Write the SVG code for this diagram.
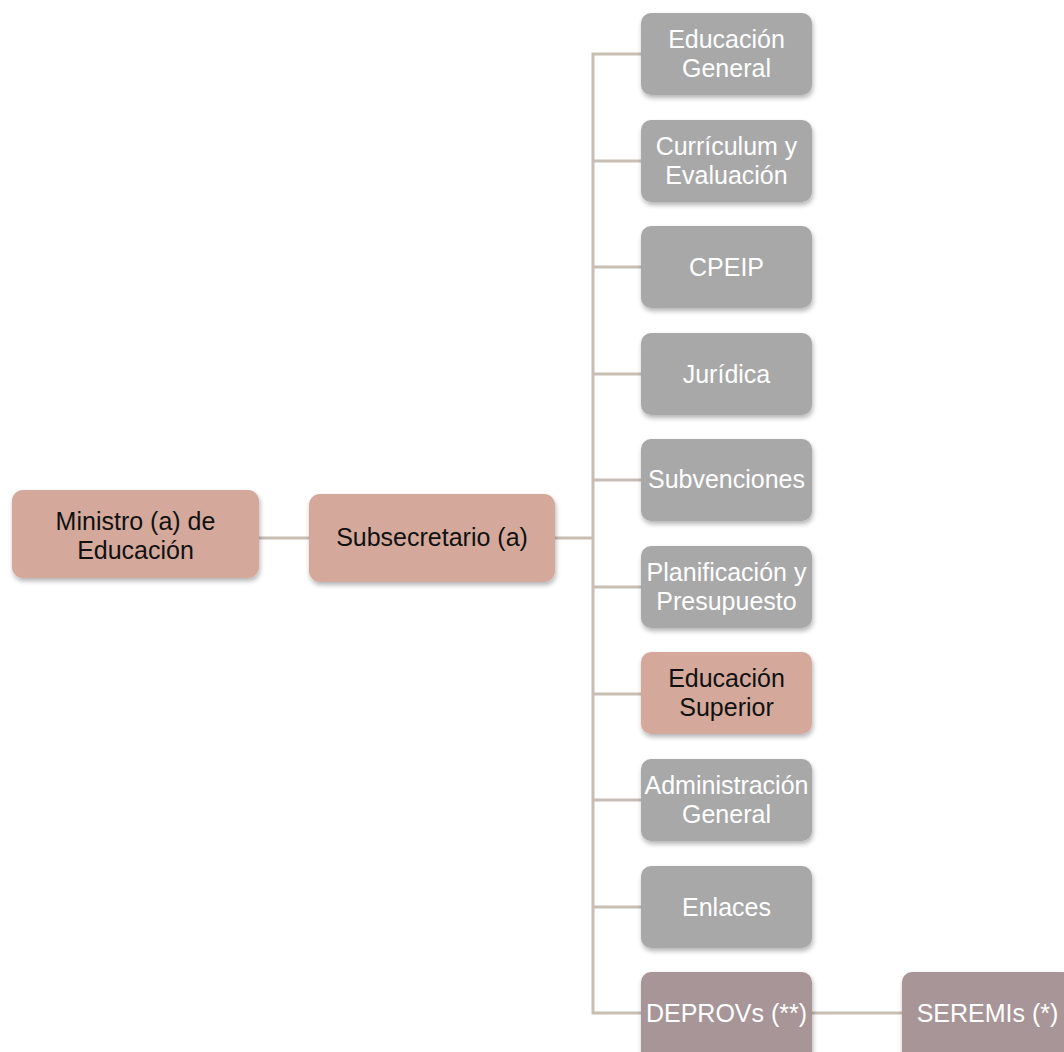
<svg xmlns="http://www.w3.org/2000/svg" width="1064" height="1052" viewBox="0 0 1064 1052">
<defs>
<filter id="sh" x="-10%" y="-10%" width="125%" height="130%">
<feGaussianBlur in="SourceAlpha" stdDeviation="2.5"/>
<feOffset dx="1" dy="3" result="b"/>
<feComponentTransfer><feFuncA type="linear" slope="0.3"/></feComponentTransfer>
<feMerge><feMergeNode/><feMergeNode in="SourceGraphic"/></feMerge>
</filter>
</defs>
<style>
.pink{fill:#D4A99B}
.gray{fill:#A8A8A9}
.mauve{fill:#A89597}
rect{filter:url(#sh)}
text{font-family:"Liberation Sans",Arial,sans-serif;font-size:25px;text-anchor:middle}
.w{fill:#FFFFFF}
.k{fill:#111111}
.ln{stroke:#C9BEB3;stroke-width:3;fill:none}
</style>
<rect width="1064" height="1052" fill="#FFFFFF" style="filter:none"/>
<g id="connectors">
<path class="ln" d="M259,538 H309"/>
<path class="ln" d="M555,538 H593"/>
<path class="ln" d="M641,54 H593 V1013 H641"/>
<path class="ln" d="M593,161 H641 M593,267 H641 M593,374 H641 M593,480 H641 M593,587 H641 M593,694 H641 M593,800 H641 M593,907 H641"/>
<path class="ln" d="M812,1013 H902"/>
</g>
<g id="ministro"><rect class="pink" x="12" y="490" width="247" height="88" rx="11"/><text class="k" x="135.5" y="530">Ministro (a) de</text><text class="k" x="135.5" y="559">Educación</text></g>
<g id="subsecretario"><rect class="pink" x="309" y="494" width="246" height="88" rx="11"/><text class="k" x="432" y="546">Subsecretario (a)</text></g>
<g id="educacion-general"><rect class="gray" x="641" y="13" width="171" height="82" rx="10"/><text class="w" x="726.5" y="48">Educación</text><text class="w" x="726.5" y="77">General</text></g>
<g id="curriculum"><rect class="gray" x="641" y="120" width="171" height="82" rx="10"/><text class="w" x="726.5" y="155">Currículum y</text><text class="w" x="726.5" y="184">Evaluación</text></g>
<g id="cpeip"><rect class="gray" x="641" y="226" width="171" height="82" rx="10"/><text class="w" x="726.5" y="276">CPEIP</text></g>
<g id="juridica"><rect class="gray" x="641" y="333" width="171" height="82" rx="10"/><text class="w" x="726.5" y="383">Jurídica</text></g>
<g id="subvenciones"><rect class="gray" x="641" y="439" width="171" height="82" rx="10"/><text class="w" x="726.5" y="488">Subvenciones</text></g>
<g id="planificacion"><rect class="gray" x="641" y="546" width="171" height="82" rx="10"/><text class="w" x="726.5" y="581">Planificación y</text><text class="w" x="726.5" y="610">Presupuesto</text></g>
<g id="educacion-superior"><rect class="pink" x="641" y="652" width="171" height="82" rx="10"/><text class="k" x="726.5" y="687">Educación</text><text class="k" x="726.5" y="716">Superior</text></g>
<g id="administracion"><rect class="gray" x="641" y="759" width="171" height="82" rx="10"/><text class="w" x="726.5" y="794">Administración</text><text class="w" x="726.5" y="823">General</text></g>
<g id="enlaces"><rect class="gray" x="641" y="866" width="171" height="82" rx="10"/><text class="w" x="726.5" y="916">Enlaces</text></g>
<g id="deprovs"><rect class="mauve" x="641" y="972" width="171" height="90" rx="10"/><text class="w" x="726.5" y="1022">DEPROVs (**)</text></g>
<g id="seremis"><rect class="mauve" x="902" y="972" width="171" height="90" rx="10"/><text class="w" x="987.5" y="1022">SEREMIs (*)</text></g>
</svg>
